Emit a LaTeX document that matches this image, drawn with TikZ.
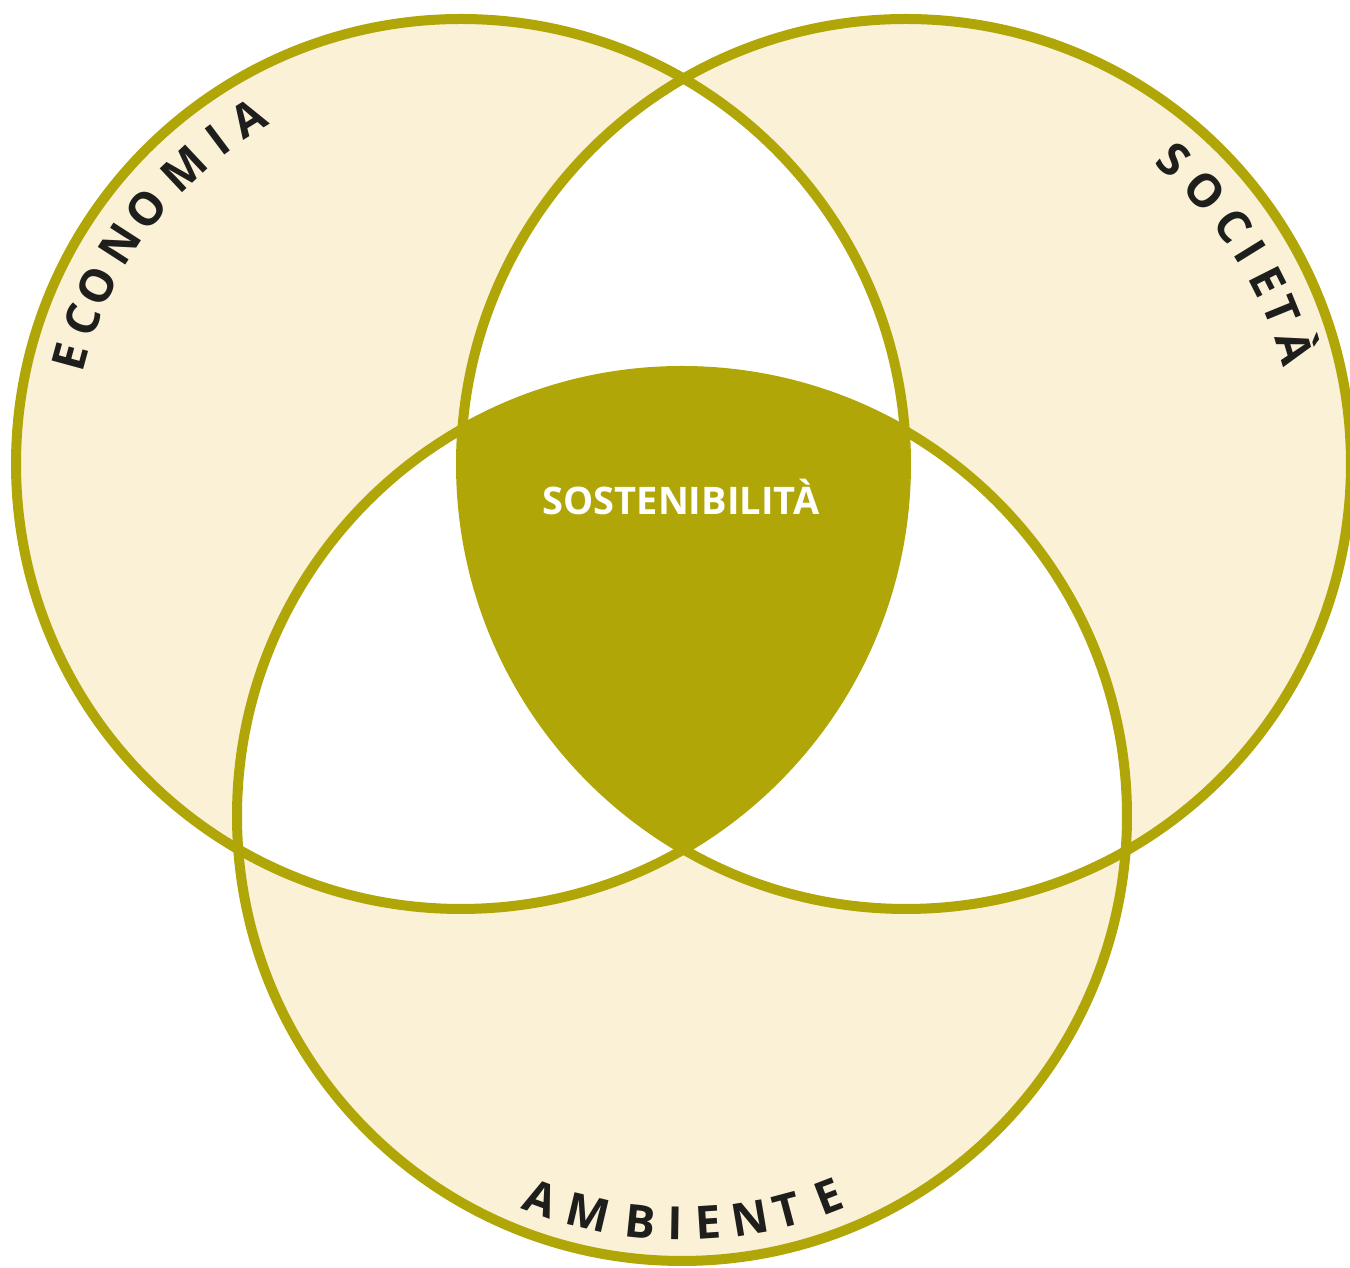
\documentclass[tikz,border=0pt]{standalone}
\usepackage{fontspec}
\setmainfont{Open Sans}
\usetikzlibrary{calc}

\definecolor{ringcol}{HTML}{B0A608}
\definecolor{creamcol}{HTML}{FAF1D7}
\definecolor{inkcol}{HTML}{1E1E1C}

\tikzstyle{ring} = [draw=ringcol, line width=0.1cm]
\tikzstyle{letter} = [inner sep=0, anchor=base, text=inkcol, font=\fontsize{13}{15}\selectfont\bfseries]
\tikzstyle{core} = [inner sep=0, anchor=base, text=white, font=\fontsize{10.8}{13}\selectfont\bfseries]

\begin{document}
\begin{tikzpicture}[x=0.01cm,y=0.01cm]
\def\r{445}
\def\rin{389}
\def\rout{424}

\useasboundingbox (0,0) rectangle (1350,-1268);
\coordinate (eco) at (461,-464);
\coordinate (soc) at (906,-464);
\coordinate (amb) at (682,-816);

%   cream discs
	\fill[creamcol] (eco) circle (\r) (soc) circle (\r) (amb) circle (\r);

%   pairwise overlaps in white
	\begin{scope}
	\clip (eco) circle (\r);
	\fill[white] (soc) circle (\r) (amb) circle (\r);
	\end{scope}
	\begin{scope}
	\clip (soc) circle (\r);
	\fill[white] (amb) circle (\r);
	\end{scope}

%   common core
	\begin{scope}
	\clip (eco) circle (\r);
	\clip (soc) circle (\r);
	\fill[ringcol] (amb) circle (\r);
	\end{scope}

	\draw[ring] (eco) circle (\r);
	\draw[ring] (soc) circle (\r);
	\draw[ring] (amb) circle (\r);

	\node[core] (sost) at (681,-515) {SOSTENIBILITÀ};

%   labels along the rings
	\foreach \l/\a [count=\i] in {E/164.7, C/159.2, O/153.9, N/147.2, O/141.0, M/133.2, I/126.9, A/121.6}
	  \node[letter, rotate=\a-90] (eco\i) at ($(eco)+(\a:\rin)$) {\l};
	\foreach \l/\a [count=\i] in {S/48.6, O/42.4, C/36.1, I/31.7, E/26.8, T/22.2, À/16.6}
	  \node[letter, rotate=\a-90] (soc\i) at ($(soc)+(\a:\rin)$) {\l};
	\foreach \l/\a [count=\i] in {A/-110.2, M/-103.3, B/-95.9, I/-91.0, E/-86.3, N/-80.4, T/-75.1, E/-68.9}
	  \node[letter, rotate=\a+90] (amb\i) at ($(amb)+(\a:\rout)$) {\l};

\end{tikzpicture}
\end{document}
